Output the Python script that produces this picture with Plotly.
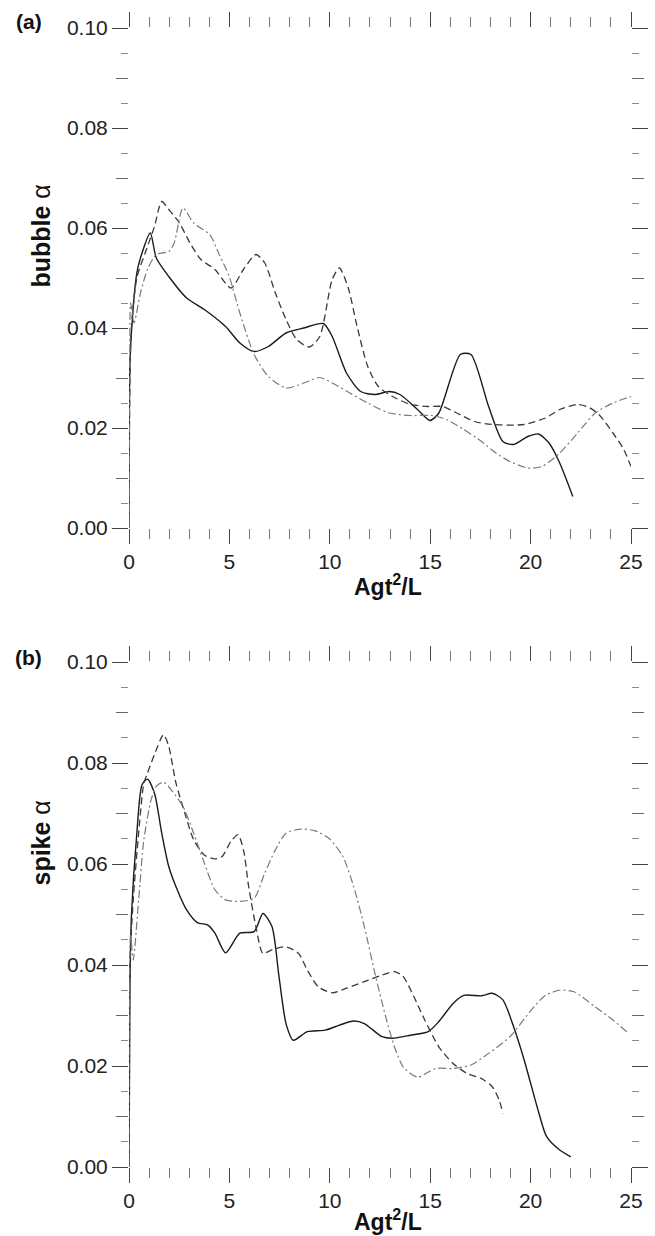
import plotly.graph_objects as go

# ---------------- data ----------------
# Panel (a): bubble alpha
a_solid_x = [0, 0.03, 0.1, 0.39, 0.57, 1.06, 1.36, 1.98, 2.87, 3.75, 4.81, 5.52, 6.23, 6.94, 7.82, 8.71, 9.68, 10.12,
             10.83, 11.54, 12.25, 12.96, 13.49, 14.37, 14.99, 15.43, 16.5, 17.03, 17.91, 18.62, 19.15, 19.86, 20.39,
             20.92, 21.45, 22.1]
a_solid_y = [0, 0.03, 0.0377, 0.051, 0.054, 0.059, 0.054, 0.0503, 0.046, 0.0437, 0.0403, 0.037, 0.0353, 0.0363, 0.039,
             0.040, 0.0409, 0.0383, 0.031, 0.0273, 0.0267, 0.0273, 0.0267, 0.0237, 0.0215, 0.023, 0.0347, 0.0347,
             0.0243, 0.0173, 0.0167, 0.0183, 0.0188, 0.017, 0.013, 0.0063]

a_dash_x = [0, 0.05, 0.12, 0.39, 0.92, 1.27, 1.63, 1.98, 2.51, 3.04, 3.58, 4.28, 5.08, 5.7, 6.32, 6.76, 7.29, 7.82,
            8.35, 8.97, 9.5, 10.12, 10.48, 10.92, 11.36, 11.89, 12.42, 13.13, 14.02, 14.9, 15.61, 16.32, 17.2, 18.09,
            19.68, 20.74, 21.45, 22.34, 22.87, 23.4, 24.1, 24.64, 25.0]
a_dash_y = [0, 0.03, 0.040, 0.050, 0.0563, 0.0603, 0.0653, 0.0637, 0.061, 0.057, 0.0537, 0.0517, 0.048, 0.0517,
            0.0547, 0.053, 0.047, 0.0417, 0.0377, 0.0362, 0.0383, 0.0497, 0.052, 0.048, 0.0403, 0.0323, 0.0283,
            0.0263, 0.0247, 0.0243, 0.0243, 0.023, 0.0213, 0.0207, 0.0207, 0.022, 0.0237, 0.0247, 0.0242, 0.0227,
            0.019, 0.0157, 0.0123]

a_dd_x = [0, 0.04, 0.08, 0.25, 0.57, 0.92, 1.36, 1.98, 2.25, 2.69, 3.22, 4.02, 4.46, 4.99, 5.52, 6.23, 6.94, 7.82,
          8.71, 9.5, 10.12, 11.0, 11.89, 12.96, 14.02, 15.08, 15.79, 16.67, 17.56, 18.27, 18.97, 19.86, 20.57, 21.45,
          22.34, 23.22, 24.1, 25.0]
a_dd_y = [0, 0.03, 0.045, 0.041, 0.047, 0.0517, 0.0547, 0.0553, 0.057, 0.064, 0.061, 0.0587, 0.055, 0.0503, 0.043,
          0.0347, 0.0303, 0.028, 0.029, 0.0301, 0.029, 0.027, 0.025, 0.023, 0.0225, 0.0225, 0.0217, 0.0197, 0.0173,
          0.015, 0.0133, 0.012, 0.0123, 0.015, 0.019, 0.023, 0.025, 0.0263]

# Panel (b): spike alpha
b_solid_x = [0, 0.05, 0.12, 0.39, 0.65, 0.92, 1.27, 1.63, 1.98, 2.34, 2.87, 3.4, 3.93, 4.28, 4.81, 5.52, 6.23, 6.67,
             7.12, 7.47, 7.82, 8.18, 8.88, 9.77, 10.48, 11.19, 11.72, 12.6, 13.13, 14.02, 14.9, 15.43, 16.14, 16.67,
             17.56, 18.09, 18.62, 19.15, 19.68, 20.39, 20.8, 21.4, 22.0]
b_solid_y = [0, 0.0364, 0.0496, 0.0661, 0.0757, 0.0768, 0.074, 0.0661, 0.0595, 0.0555, 0.0509, 0.0484, 0.0479,
             0.0463, 0.0424, 0.0463, 0.0466, 0.0502, 0.0476, 0.0377, 0.0284, 0.0251, 0.0268, 0.0271, 0.0281, 0.0289,
             0.0284, 0.0258, 0.0255, 0.0261, 0.0268, 0.0288, 0.0324, 0.034, 0.0339, 0.0344, 0.0331, 0.0278, 0.0212,
             0.011, 0.006, 0.0035, 0.002]

b_dash_x = [0, 0.04, 0.21, 0.48, 0.74, 0.92, 1.27, 1.72, 1.98, 2.34, 2.78, 3.22, 3.75, 4.28, 4.64, 5.08, 5.43, 5.7,
            5.96, 6.32, 6.67, 7.12, 7.82, 8.44, 8.88, 9.42, 10.12, 10.83, 11.72, 12.6, 13.22, 13.66, 14.19, 14.73,
            15.43, 16.14, 16.85, 17.56, 18.09, 18.44, 18.62]
b_dash_y = [0, 0.0397, 0.0529, 0.0661, 0.076, 0.078, 0.0817, 0.0856, 0.0833, 0.076, 0.0701, 0.0648, 0.0618, 0.061,
            0.0615, 0.0645, 0.0658, 0.0628, 0.0555, 0.0476, 0.0423, 0.043, 0.0436, 0.0423, 0.039, 0.0357, 0.0345,
            0.0354, 0.0367, 0.038, 0.0387, 0.0377, 0.0337, 0.0291, 0.0238, 0.0205, 0.0185, 0.0175, 0.0159, 0.0132,
            0.0106]

b_dd_x = [0, 0.08, 0.21, 0.48, 0.74, 1.1, 1.36, 1.72, 2.16, 2.69, 3.22, 3.75, 4.28, 4.81, 5.52, 6.23, 6.76, 7.29,
          7.82, 8.53, 9.24, 9.95, 10.65, 11.19, 11.72, 12.25, 12.78, 13.22, 13.66, 14.37, 15.26, 16.14, 17.03, 17.91,
          18.97, 20.04, 20.74, 21.45, 22.16, 23.22, 24.1, 24.9]
b_dd_y = [0, 0.046, 0.041, 0.0529, 0.0648, 0.0727, 0.0754, 0.0762, 0.0744, 0.0714, 0.0661, 0.0602, 0.0549, 0.0529,
          0.0526, 0.0532, 0.0582, 0.0628, 0.0661, 0.0669, 0.0666, 0.0651, 0.0615, 0.0555, 0.0476, 0.0383, 0.0298,
          0.0238, 0.0198, 0.0178, 0.0195, 0.0195, 0.0202, 0.0225, 0.0258, 0.0311, 0.034, 0.035, 0.0347, 0.0317,
          0.0291, 0.0264]

y_tickvals = [0.00, 0.02, 0.04, 0.06, 0.08, 0.10]
y_ticktext = ["0.00", "0.02", "0.04", "0.06", "0.08", "0.10"]
y_mid_tickvals = [0.01, 0.03, 0.05, 0.07, 0.09]
x_tickvals = [0, 5, 10, 15, 20, 25]
x_ticktext = ["0", "5", "10", "15", "20", "25"]

panel_labels = ["(a)", "(b)"]
y_titles = ["<b>bubble</b> α", "<b>spike</b> α"]
x_title = "<b>Agt<sup>2</sup>/L</b>"

# ---------------- figure ----------------
FONT = "Liberation Sans, Arial, Helvetica, sans-serif"
fig = go.Figure()

styles = [
    dict(color="#1a1a1a", width=1.4, dash="solid"),
    dict(color="#3a3a3a", width=1.3, dash="7px,4px"),
    dict(color="#7a7a7a", width=1.2, dash="8px,3px,2px,3px"),
]

panels = [
    ("x", "y", [(a_solid_x, a_solid_y), (a_dash_x, a_dash_y), (a_dd_x, a_dd_y)]),
    ("x2", "y2", [(b_solid_x, b_solid_y), (b_dash_x, b_dash_y), (b_dd_x, b_dd_y)]),
]
for xa, ya, series in panels:
    for (xs, ys), st in zip(series, styles):
        fig.add_trace(go.Scatter(x=xs, y=ys, mode="lines", xaxis=xa, yaxis=ya,
                                 line=dict(color=st["color"], width=st["width"], dash=st["dash"],
                                           shape="spline", smoothing=0.7),
                                 showlegend=False, hoverinfo="skip"))
# empty helper traces so that the overlay tick axes are drawn
for xa, ya in [("x", "y3"), ("x2", "y4")]:
    fig.add_trace(go.Scatter(x=[], y=[], xaxis=xa, yaxis=ya, mode="lines",
                             showlegend=False, hoverinfo="skip"))

W, H = 655, 1236
ML, MR, MT, MB = 129, 21, 28, 69
plot_h = H - MT - MB
dom_a = [1 - 500 / plot_h, 1]
dom_b = [0, 505 / plot_h]

TICKFONT = dict(family=FONT, size=21, color="#222")
xaxis_common = dict(range=[0, 25], showline=False, showgrid=False, zeroline=False,
                    ticks="outside", ticklen=15, tickwidth=1.2, tickcolor="#444",
                    tickvals=x_tickvals, ticktext=x_ticktext, mirror="ticks",
                    tickfont=TICKFONT,
                    minor=dict(dtick=1, tick0=0, ticklen=10, tickwidth=1.1, tickcolor="#777",
                               ticks="outside", showgrid=False))
yaxis_common = dict(range=[0, 0.10], showline=False, showgrid=False, zeroline=False,
                    ticks="outside", ticklen=16, tickwidth=1.2, tickcolor="#444",
                    tickvals=y_tickvals, ticktext=y_ticktext, mirror="ticks",
                    tickfont=TICKFONT,
                    minor=dict(dtick=0.005, tick0=0, ticklen=7, tickwidth=1.1, tickcolor="#888",
                               ticks="outside", showgrid=False))
ymid_common = dict(range=[0, 0.10], showline=False, showgrid=False, zeroline=False,
                   ticks="outside", ticklen=12, tickwidth=1.1, tickcolor="#666",
                   tickvals=y_mid_tickvals, showticklabels=False, mirror="ticks", side="left")

fig.update_layout(
    width=W, height=H,
    margin=dict(l=ML, r=MR, t=MT, b=MB),
    paper_bgcolor="white", plot_bgcolor="white",
    xaxis=dict(domain=[0, 1], anchor="y", **xaxis_common),
    yaxis=dict(domain=dom_a, anchor="x", **yaxis_common),
    xaxis2=dict(domain=[0, 1], anchor="y2", **xaxis_common),
    yaxis2=dict(domain=dom_b, anchor="x2", **yaxis_common),
    yaxis3=dict(overlaying="y", anchor="x", **ymid_common),
    yaxis4=dict(overlaying="y2", anchor="x2", **ymid_common),
)

pw = W - ML - MR


def px_x(p):
    return (p - ML) / pw


def px_y(p):
    return (H - MB - p) / plot_h


ann = []
for lbl, ypix in zip(panel_labels, [22, 657]):
    ann.append(dict(text="<b>%s</b>" % lbl, x=px_x(28), y=px_y(ypix), xref="paper", yref="paper",
                    xanchor="center", yanchor="middle", showarrow=False,
                    font=dict(family=FONT, size=21, color="#111")))
for t, ypix in zip(y_titles, [236, 843]):
    ann.append(dict(text=t, x=px_x(40), y=px_y(ypix), xref="paper", yref="paper", textangle=-90,
                    xanchor="center", yanchor="middle", showarrow=False,
                    font=dict(family=FONT, size=25, color="#111")))
for ypix in [585, 1220]:
    ann.append(dict(text=x_title, x=px_x(390), y=px_y(ypix), xref="paper", yref="paper",
                    xanchor="center", yanchor="middle", showarrow=False,
                    font=dict(family=FONT, size=23, color="#111")))
fig.update_layout(annotations=ann)

fig.write_html("out.html")
